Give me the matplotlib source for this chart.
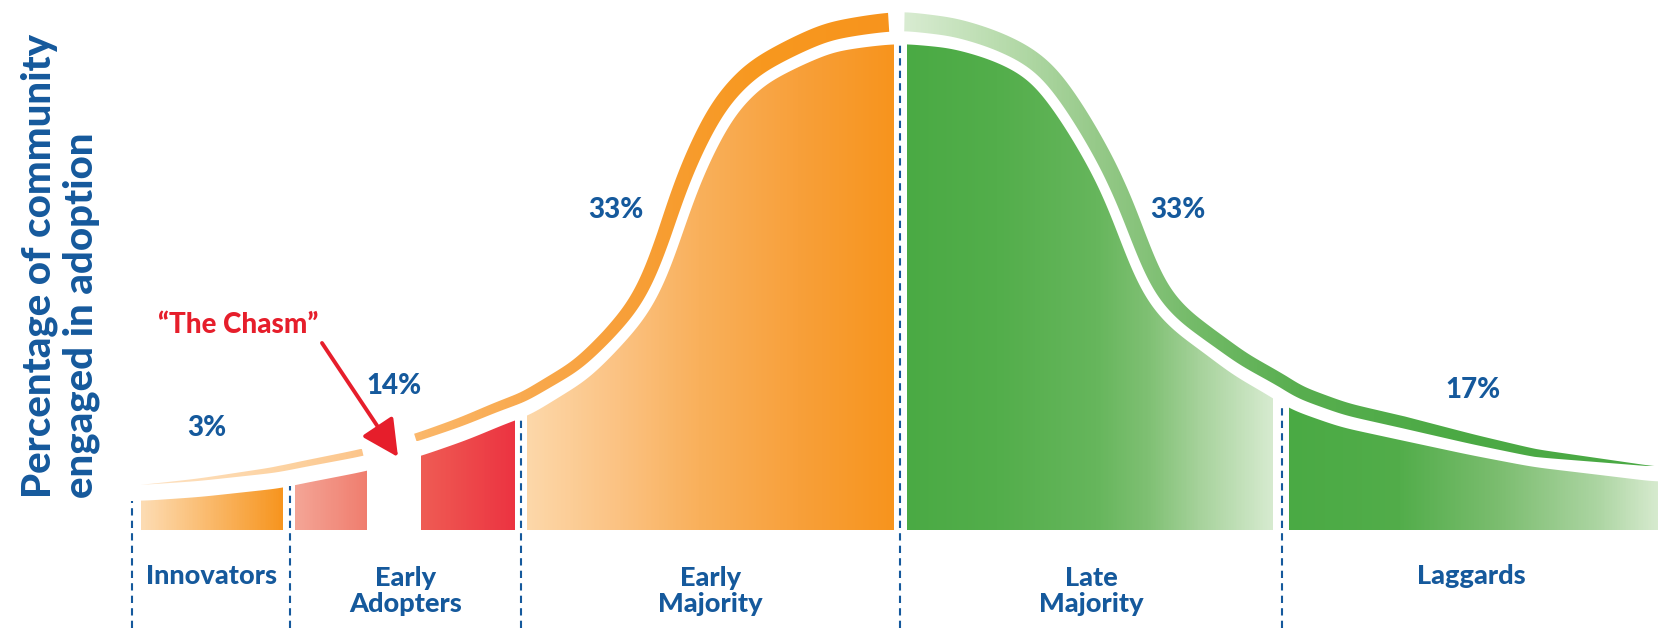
import numpy as np
import matplotlib.pyplot as plt
from matplotlib.colors import LinearSegmentedColormap
from matplotlib.patches import Polygon

plt.rcParams['font.family'] = ['Lato', 'DejaVu Sans']

BLUE = '#15599c'
RED = '#e61e2b'
W = 1661

# adoption groups and their share
groups = ["Innovators", "Early\nAdopters", "Early\nMajority", "Late\nMajority", "Laggards"]
shares = ["3%", "14%", "33%", "33%", "17%"]
share_x = [207, 394, 616, 1178, 1473]
share_h = [102, 144, 320, 320, 140]

# bell curve (inner edge of the filled area)
curve_x = [141, 200, 283, 295, 367, 421, 467, 515, 527, 587, 610, 633, 647, 660, 673, 680,
           687, 697, 707, 720, 733, 750, 767, 800, 833, 865, 894,
           907, 950, 983, 1010, 1033, 1050, 1067, 1080, 1100, 1117, 1127, 1140, 1155, 1175,
           1200, 1233, 1273, 1289, 1340, 1400, 1470, 1533, 1600, 1658]
curve_h = [29, 33, 42, 45, 59, 74, 90, 110, 113, 150, 172, 197, 214, 236, 266, 288,
           312, 339, 363, 389, 413, 432, 447, 464, 478, 483, 486,
           486, 482, 473, 462, 447, 425, 400, 378, 342, 300, 270, 240, 218, 198,
           180, 155, 132, 121, 103, 90, 75, 63, 55, 48]

# outer band: white gap above the curve and band thickness
band_x = [141, 283, 421, 520, 620, 680, 760, 894, 907, 1000, 1100, 1200, 1273, 1400, 1533, 1658]
band_gap = [16, 16, 15, 14, 11, 10, 11, 13, 13, 11, 10, 11, 13, 12, 10, 15]
band_w = [0, 6, 8, 10, 12, 14, 17, 19, 19, 18, 16, 14, 13, 12, 8, 0]
band_pieces = [(141, 367), (421, 890), (904, 1658)]
band_stops = [
    ([141, 283, 367, 421, 520, 620, 760, 890],
     ['#fde2c2', '#fdd3a2', '#fcc488', '#fbb769', '#f9aa4f', '#f8a03a', '#f7981f', '#f7941d']),
    ([141, 283, 367, 421, 520, 620, 760, 890],
     ['#fde2c2', '#fdd3a2', '#fcc488', '#fbb769', '#f9aa4f', '#f8a03a', '#f7981f', '#f7941d']),
    ([904, 1000, 1100, 1200, 1300, 1450, 1658],
     ['#d9ecd2', '#b9dcae', '#95c988', '#72ba67', '#58ae4f', '#4caa45', '#4aa944']),
]

# group dividers and filled pieces (the chasm is cut out of the early adopters)
dividers = [132, 290, 521, 900, 1282]
pieces = [(141, 283), (295, 367), (421, 515), (527, 894), (907, 1273), (1289, 1658)]
piece_stops = [
    ([0, 1], ['#fddcb3', '#f7941d']),
    ([0, 1], ['#f4a596', '#f07d6e']),
    ([0, 1], ['#ef5c54', '#ec3341']),
    ([0, 0.25, 0.47, 0.74, 1], ['#fdd8aa', '#fbc282', '#f9b05b', '#f8a03a', '#f7941d']),
    ([0, 0.25, 0.52, 0.66, 0.8, 1], ['#4aaa44', '#53ae4b', '#66b65c', '#7fc073', '#a6d29b', '#d7ebd0']),
    ([0, 0.3, 0.57, 0.84, 1], ['#4aaa44', '#52ad4a', '#7bbd6f', '#acd5a2', '#d6eace']),
]

fig = plt.figure(figsize=(16.61, 6.28), dpi=100)
ax = fig.add_axes([0, 0, 1, 1])
ax.axis('off')

# fine, smoothed curve for drawing
fx = np.arange(curve_x[0], curve_x[-1] + 1, 1.0)
fh = np.interp(fx, curve_x, curve_h)
k = np.ones(21) / 21
for _ in range(3):
    fh = np.convolve(np.r_[[fh[0]] * 10, fh, [fh[-1]] * 10], k, mode='valid')


def gradient(poly, xs, cs):
    patch = Polygon(poly, closed=True, fc='none', ec='none')
    ax.add_patch(patch)
    pos = [0] + [x / W for x in xs] + [1]
    cols = [cs[0]] + list(cs) + [cs[-1]]
    cmap = LinearSegmentedColormap.from_list('g', list(zip(pos, cols)), N=1024)
    img = ax.imshow(np.linspace(0, 1, 1661)[None, :], cmap=cmap, aspect='auto',
                    extent=[0, W, poly[:, 1].min(), poly[:, 1].max()],
                    interpolation='bilinear', origin='lower')
    img.set_clip_path(patch)


# filled areas under the curve
for (a, b), (p, cs) in zip(pieces, piece_stops):
    xs = np.linspace(a, b, 300)
    top = np.interp(xs, fx, fh)
    poly = np.column_stack([np.r_[xs, xs[::-1]], np.r_[top, np.zeros_like(xs)]])
    gradient(poly, [a + q * (b - a) for q in p], cs)

# outer band following the curve
slope = np.gradient(fh, fx)
nx = -slope / np.sqrt(1 + slope ** 2)
ny = 1 / np.sqrt(1 + slope ** 2)
for (a, b), (sx, cs) in zip(band_pieces, band_stops):
    m = (fx >= a) & (fx <= b)
    g = np.interp(fx[m], band_x, band_gap)
    w = np.interp(fx[m], band_x, band_w)
    lo = np.column_stack([fx[m] + nx[m] * g, fh[m] + ny[m] * g])
    hi = np.column_stack([fx[m] + nx[m] * (g + w), fh[m] + ny[m] * (g + w)])
    gradient(np.vstack([lo, hi[::-1]]), sx, cs)

# dashed dividers
for d in dividers:
    top = np.interp(d, fx, fh)
    ax.plot([d, d], [-98, top], color=BLUE, lw=1.5, ls=(0, (3.5, 2.5)))

# group names under the baseline
edges = dividers + [W]
for i, name in enumerate(groups):
    cx = (edges[i] + edges[i + 1]) / 2
    ax.text(cx, -61 if '\n' in name else -46, name, ha='center', va='center',
            fontsize=19.5, fontweight='black', color=BLUE, linespacing=1.1)

for s, x, h in zip(shares, share_x, share_h):
    ax.text(x, h, s, ha='center', va='center', fontsize=20, fontweight='black', color=BLUE)

# the chasm
ax.text(238, 205, '\u201cThe Chasm\u201d', ha='center', va='center', fontsize=20,
        fontweight='black', color=RED)
ax.annotate('', xy=(398, 73), xytext=(322, 187),
            arrowprops=dict(arrowstyle='-|>,head_length=0.75,head_width=0.38', color=RED,
                            lw=2.8, mutation_scale=30, shrinkA=0, shrinkB=0))

# y label
ax.text(39, 32, 'Percentage of community', rotation=90, ha='center', va='bottom',
        fontsize=29, fontweight='black', color=BLUE)
ax.text(81, 32, 'engaged in adoption', rotation=90, ha='center', va='bottom',
        fontsize=29, fontweight='black', color=BLUE)

ax.set_xlim(0, W)
ax.set_ylim(-98, 530)
fig.savefig('out.png', dpi=100)
